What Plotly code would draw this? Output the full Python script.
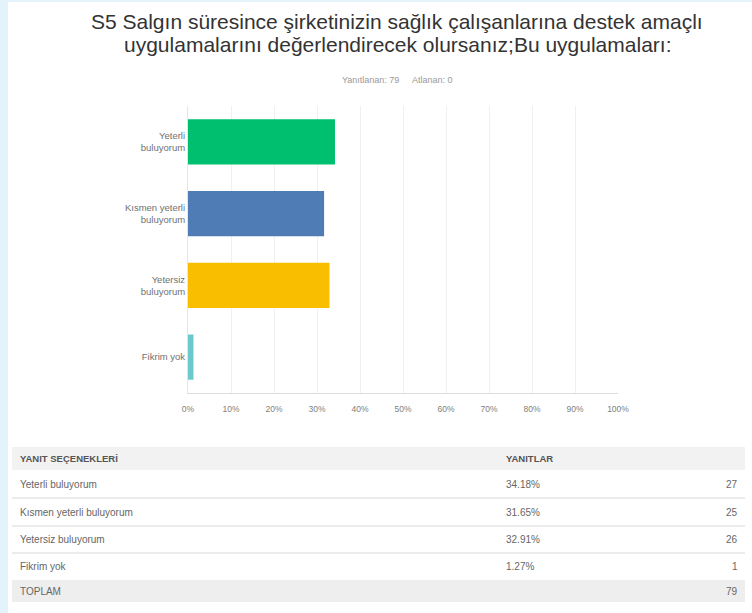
import plotly.graph_objects as go

# survey data
categories = ["Yeterli<br>buluyorum", "Kısmen yeterli<br>buluyorum", "Yetersiz<br>buluyorum", "Fikrim yok"]
options = ["Yeterli buluyorum", "Kısmen yeterli buluyorum", "Yetersiz buluyorum", "Fikrim yok"]
percents = [34.18, 31.65, 32.91, 1.27]
counts = [27, 25, 26, 1]
total = 79
skipped = 0
bar_colors = ["#00bf6f", "#507cb6", "#f9be00", "#6bc8cd"]
tick_vals = [0, 10, 20, 30, 40, 50, 60, 70, 80, 90, 100]
tick_text = [f"{v}%" for v in tick_vals]
title_lines = ["S5 Salgın süresince şirketinizin sağlık çalışanlarına destek amaçlı",
               "uygulamalarını değerlendirecek olursanız;Bu uygulamaları:"]

W, H = 752, 613
grey_txt = "#666666"

fig = go.Figure()
fig.add_trace(go.Bar(
    y=categories, x=percents, orientation="h",
    marker_color=bar_colors, marker_line_width=0,
    width=0.63, hoverinfo="x+y", showlegend=False,
))

fig.update_layout(
    width=W, height=H,
    margin=dict(l=188, r=134, t=106, b=220),
    paper_bgcolor="white", plot_bgcolor="white",
    font=dict(family="Liberation Sans, Arial, sans-serif", color=grey_txt, size=9),
    xaxis=dict(range=[0, 100], tickmode="array", tickvals=tick_vals, ticktext=tick_text,
               showgrid=True, gridcolor="#f0f0f0", gridwidth=1, zeroline=False,
               showline=True, linecolor="#dddddd", ticks="", ticklen=0,
               ticklabelstandoff=8,
               tickfont=dict(size=8.5, color="#808080")),
    yaxis=dict(autorange="reversed", showgrid=False, zeroline=False,
               showline=True, linecolor="#e6e6e6", ticks="",
               tickfont=dict(size=9.5, color="#707070")),
)

# page frame (light blue edges)
fig.add_shape(type="rect", xref="paper", yref="paper", layer="below",
              x0=-188 / 430, x1=-180 / 430, y0=-220 / 287, y1=1 + 106 / 287,
              fillcolor="#e3f2fb", line_width=0)
fig.add_shape(type="rect", xref="paper", yref="paper", layer="below",
              x0=-188 / 430, x1=1 + 134 / 430, y0=1 + 104 / 287, y1=1 + 106 / 287,
              fillcolor="#e3f2fb", line_width=0)

def px(x):
    # page pixel -> paper x
    return (x - 188) / 430

def py(y):
    # page pixel (from top) -> paper y
    return (393 - y) / 287

# title and subtitle
for line, yc in zip(title_lines, [22, 44]):
    fig.add_annotation(xref="paper", yref="paper", x=px(397), y=py(yc), showarrow=False,
                       xanchor="center", yanchor="middle", text=line,
                       font=dict(size=21, color="#333333"))
fig.add_annotation(xref="paper", yref="paper", x=px(397), y=py(80), showarrow=False,
                   xanchor="center", yanchor="middle",
                   text=f"Yanıtlanan: {total}&nbsp;&nbsp;&nbsp;&nbsp;&nbsp;Atlanan: {skipped}",
                   font=dict(size=9, color="#999999"))

# response table
tx0, tx1 = 12, 745
rows_top = [447, 470, 498, 526, 553, 580, 602]
fig.add_shape(type="rect", xref="paper", yref="paper", layer="below",
              x0=px(tx0), x1=px(tx1), y0=py(rows_top[1]), y1=py(rows_top[0]),
              fillcolor="#f2f2f2", line_width=0)
fig.add_shape(type="rect", xref="paper", yref="paper", layer="below",
              x0=px(tx0), x1=px(tx1), y0=py(rows_top[6]), y1=py(rows_top[5]),
              fillcolor="#eeeeee", line_width=0)
for yb in rows_top[2:5]:
    fig.add_shape(type="line", xref="paper", yref="paper",
                  x0=px(tx0), x1=px(tx1), y0=py(yb), y1=py(yb),
                  line=dict(color="#d8d8d8", width=1))

def cell(x, yc, text, anchor="left", bold=False, size=10):
    fig.add_annotation(xref="paper", yref="paper", x=px(x), y=py(yc), showarrow=False,
                       xanchor=anchor, yanchor="middle", text=f"<b>{text}</b>" if bold else text,
                       font=dict(size=size, color="#666666" if not bold else "#555555"))

cell(18, 459, "YANIT SEÇENEKLERİ", bold=True, size=9.5)
cell(504, 459, "YANITLAR", bold=True, size=9.5)
for i, opt in enumerate(options):
    yc = (rows_top[i + 1] + rows_top[i + 2]) / 2
    cell(18, yc, opt)
    cell(504, yc, f"{percents[i]:.2f}%")
    cell(740, yc, str(counts[i]), anchor="right")
cell(18, 591, "TOPLAM")
cell(740, 591, str(total), anchor="right")

# drop the default 8px body margin so the figure sits at the page corner
fig.write_html("out.html", config={"displayModeBar": False},
               post_script="document.body.style.margin='0';")
